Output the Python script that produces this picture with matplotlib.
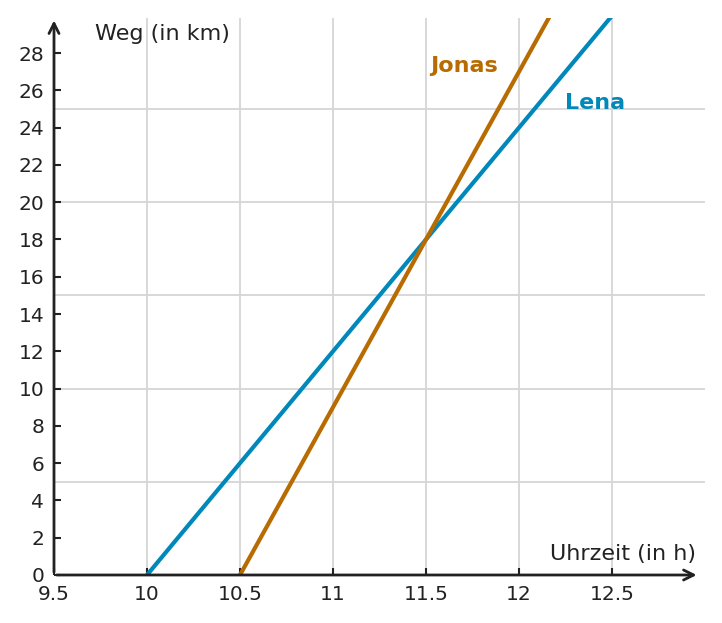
import matplotlib
matplotlib.use("Agg")
import matplotlib.pyplot as plt
import numpy as np

# Uhrzeit (h) und Weg (km)
lena_t = [10, 12.5]
lena_s = [0, 30]
jonas_t = [10.5, 12.1667]
jonas_s = [0, 30]

xticks = [9.5, 10, 10.5, 11, 11.5, 12, 12.5]
xlabels = ["9.5", "10", "10.5", "11", "11.5", "12", "12.5"]
yticks = list(range(0, 30, 2))
xgrid = [10, 10.5, 11, 11.5, 12, 12.5]
ygrid = [5, 10, 15, 20, 25]

blue = "#0088bb"
orange = "#b86b00"
dark = "#222222"

fig = plt.figure(figsize=(7.22, 6.23), dpi=100)
ax = fig.add_axes([54/722, 48/623, (705-54)/722, (575-18)/623])
ax.set_xlim(9.5, 13.0)
ax.set_ylim(0, 29.88)

for x in xgrid:
    ax.axvline(x, color="#d6d6d6", lw=1.3, zorder=0)
for y in ygrid:
    ax.axhline(y, color="#d6d6d6", lw=1.3, zorder=0)

ax.plot(lena_t, lena_s, color=blue, lw=3, solid_capstyle="butt")
ax.plot(jonas_t, jonas_s, color=orange, lw=3, solid_capstyle="butt")

for s in ax.spines.values():
    s.set_visible(False)

# Achsen mit Pfeil
ax.annotate("", xy=(12.97, 0), xytext=(9.5, 0),
            arrowprops=dict(arrowstyle="->", color=dark, lw=2, mutation_scale=18),
            annotation_clip=False)
ax.annotate("", xy=(9.5, 29.9), xytext=(9.5, 0),
            arrowprops=dict(arrowstyle="->", color=dark, lw=2, mutation_scale=18),
            annotation_clip=False)

ax.set_xticks(xticks)
ax.set_xticklabels(xlabels)
ax.set_yticks(yticks)
ax.tick_params(direction="in", length=5, width=1.5, color=dark, labelcolor=dark,
               labelsize=14.5)
ax.tick_params(axis="x", pad=7)
ax.tick_params(axis="y", pad=7)

ax.text(9.72, 29.0, "Weg (in km)", fontsize=16, color=dark, va="center", ha="left")
ax.text(12.95, 1.1, "Uhrzeit (in h)", fontsize=16, color=dark, va="center", ha="right")
ax.text(11.52, 27.3, "Jonas", fontsize=16, color=orange, fontweight="bold", va="center")
ax.text(12.245, 25.3, "Lena", fontsize=16, color=blue, fontweight="bold", va="center")

fig.savefig("out.png", dpi=100)
